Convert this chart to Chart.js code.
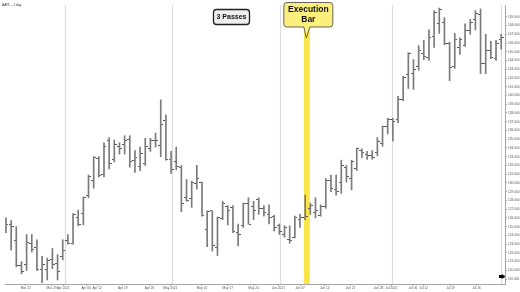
<!DOCTYPE html>
<html>
<head>
<meta charset="utf-8">
<script src="https://cdn.jsdelivr.net/npm/chart.js@4.4.1/dist/chart.umd.min.js"></script>
<style>
  body { margin: 0; background: #fff; }
  #wrap { width: 520px; height: 292px; }
</style>
</head>
<body>
<div id="wrap"><canvas id="ohlc" width="520" height="292"></canvas></div>
<script>

// AAPL daily bars, one per trading day (mid March -> early August)
var opens  = [125.6,125.3,123.4,120.6,120.7,123.1,122.6,120.1,120.1,121.2,120.8,121.6,
              123.4,123.1,126.0,126.5,128.6,130.3,132.8,131.0,134.9,132.7,134.2,134.4,135.0,132.6,131.9,132.2,133.9,134.9,134.3,137.1,132.7,
              132.4,131.8,128.3,128.2,129.9,130.0,124.7,126.8,122.6,125.9,127.3,127.2,124.3,125.1,127.6,127.3,128.1,127.1,126.4,126.2,
              125.1,124.1,123.5,123.8,125.8,126.0,127.1,126.6,126.3,127.3,130.3,129.2,130.1,131.8,130.5,131.6,133.7,133.3,133.1,133.5,134.5,136.5,
              137.2,137.2,139.5,142.4,142.5,143.3,144.8,144.4,146.7,148.2,148.4,146.0,143.3,145.5,145.7,147.4,148.7,149.3,143.7,145.2,144.2,
              146.4];
var highs  = [126.0,125.7,125.0,121.0,124.1,124.1,123.5,121.6,121.4,122.5,121.8,123.5,
              124.1,126.5,126.9,128.4,130.9,133.0,133.0,134.6,135.2,134.9,134.6,135.4,135.4,133.7,134.1,135.1,135.1,135.7,139.5,137.8,133.6,
              134.1,132.0,130.4,130.2,132.0,130.1,126.8,126.8,126.1,127.9,127.4,127.4,125.3,127.7,128.3,127.9,128.3,127.4,127.5,126.3,
              125.3,125.1,125.1,126.2,126.4,128.6,127.7,128.3,127.5,130.5,130.9,130.9,132.6,132.0,132.6,134.0,133.9,133.6,133.7,135.2,136.5,137.4,
              137.4,139.9,142.2,144.9,144.1,145.7,146.3,147.5,149.7,150.0,148.9,146.1,147.1,146.6,148.2,148.7,149.7,149.9,147.0,146.2,146.3,
              147.0];
var lows   = [124.3,122.3,120.4,119.6,120.0,122.1,120.0,118.6,118.9,120.2,118.9,121.2,
              123.0,123.0,125.1,125.2,128.3,129.4,130.7,130.7,131.6,132.4,133.3,133.3,131.8,131.2,131.4,132.0,133.6,134.1,133.0,132.6,131.1,
              131.5,126.7,127.9,127.2,129.3,126.2,122.7,122.2,121.7,125.8,125.2,124.3,122.8,124.9,125.3,125.8,126.4,126.2,125.3,124.5,
              124.1,123.8,123.1,123.7,124.9,125.8,126.4,126.0,126.2,127.1,129.0,128.6,128.8,130.1,129.2,131.4,132.9,132.7,132.7,133.1,134.2,135.6,
              134.8,136.9,139.4,140.8,140.7,142.9,144.1,144.0,145.5,147.1,145.8,141.7,143.1,144.7,145.6,147.0,147.5,142.5,142.5,144.2,144.0,
              145.3];
var closes = [125.2,125.0,120.5,119.9,123.2,122.4,120.1,120.7,121.1,120.7,119.9,122.3,
              123.1,126.4,125.3,128.3,130.7,132.9,130.9,134.2,132.2,134.4,133.9,134.9,132.4,132.9,133.4,134.2,134.9,134.8,136.7,132.7,131.5,
              131.9,127.7,128.0,130.0,130.5,126.3,126.7,122.8,126.0,127.7,126.9,124.4,124.1,127.6,125.3,126.8,127.1,126.6,126.1,124.9,
              124.4,124.9,123.4,126.0,126.1,126.2,127.4,126.9,127.3,130.3,129.4,129.0,132.0,130.7,132.4,133.9,133.5,133.1,132.9,134.7,136.4,137.2,
              137.0,139.5,142.1,144.8,143.0,145.1,144.5,146.6,149.5,149.8,145.9,143.2,146.4,146.4,147.4,148.3,149.4,143.7,145.2,144.4,146.0,
              146.6];

// month separators and date labels, in bar-index units
var monthLines  = [11.5, 32.1, 53.1, 74.8, 95.9];
var xTickPos    = [3.84, 8.83, 11.13, 15.55, 17.66, 22.65, 27.83, 31.86, 38.0, 43.0, 48.0,
                   52.8, 57.0, 61.8, 66.8, 72.2, 74.7, 78.9, 81.0, 86.2, 91.2];
var xTickLabels = ['Mar 22','Mar 29','Apr 2021','Apr 06','Apr 12','Apr 19','Apr 26','May 2021','May 10','May 17','May 24',
                   'Jun 2021','Jun 07','Jun 14','Jun 21','Jun 28','Jul 2021','Jul 06','Jul 12','Jul 19','Jul 26'];

// highlighted execution bar and the price marker at the right edge
var execFrom = 57.75, execTo = 58.9;
var lastMarker = [{ x: 96.2, y: 119.3 }];


function tickImage(side){
	var c = document.createElement('canvas');
	c.width = 5; c.height = 1;
	var g = c.getContext('2d');
	g.fillStyle = '#555';
	if(side == 'left') g.fillRect(0, 0, 2, 1);
	else g.fillRect(3, 0, 2, 1);
	return c;
}

function arrowImage(){
	var c = document.createElement('canvas');
	c.width = 7; c.height = 5;
	var g = c.getContext('2d');
	g.fillStyle = '#000';
	g.fillRect(0, 1, 4, 3);
	g.beginPath(); g.moveTo(3, 0); g.lineTo(7, 2.5); g.lineTo(3, 5); g.closePath(); g.fill();
	return c;
}

function roundRect(ctx, x, y, w, h, r){
	ctx.beginPath();
	ctx.moveTo(x + r, y);
	ctx.arcTo(x + w, y, x + w, y + h, r);
	ctx.arcTo(x + w, y + h, x, y + h, r);
	ctx.arcTo(x, y + h, x, y, r);
	ctx.arcTo(x, y, x + w, y, r);
	ctx.closePath();
}

var overlays = {
	id: 'overlays',

	beforeDatasetsDraw(chart){
		var ctx = chart.ctx, xs = chart.scales.x, area = chart.chartArea;
		ctx.save();
		// month separators
		ctx.strokeStyle = '#dcdcdc';
		ctx.lineWidth = 1.2;
		monthLines.forEach(function(m){
			var px = Math.round(xs.getPixelForValue(m)) + 0.5;
			ctx.beginPath(); ctx.moveTo(px, area.top); ctx.lineTo(px, area.bottom); ctx.stroke();
		});
		// yellow execution band
		var x1 = xs.getPixelForValue(execFrom), x2 = xs.getPixelForValue(execTo);
		ctx.fillStyle = '#f9e54a';
		ctx.fillRect(x1, 28, x2 - x1, area.bottom - 28);
		ctx.restore();
	},

	afterDraw(chart){
		var ctx = chart.ctx, xs = chart.scales.x;
		ctx.save();

		// symbol caption
		ctx.fillStyle = '#333';
		ctx.font = '3.3px "Liberation Sans", Arial, sans-serif';
		ctx.textBaseline = 'middle';
		ctx.textAlign = 'left';
		ctx.fillText('AAPL - 1 day', 2, 5);

		// "3 Passes" label
		roundRect(ctx, 213.5, 9.5, 36, 15, 3);
		ctx.fillStyle = '#efefef';
		ctx.fill();
		ctx.strokeStyle = '#222';
		ctx.lineWidth = 1.3;
		ctx.stroke();
		ctx.fillStyle = '#111';
		ctx.font = 'bold 7px "Liberation Sans", Arial, sans-serif';
		ctx.textAlign = 'center';
		ctx.fillText('3 Passes', 231.5, 17.3);

		// execution callout
		var cx = (xs.getPixelForValue(execFrom) + xs.getPixelForValue(execTo)) / 2;
		var bx = cx - 23, by = 2.5, bw = 49, bh = 24.5;
		ctx.beginPath();
		ctx.moveTo(bx + 3, by);
		ctx.lineTo(bx + bw - 3, by);
		ctx.arcTo(bx + bw, by, bx + bw, by + 3, 3);
		ctx.lineTo(bx + bw, by + bh - 3);
		ctx.arcTo(bx + bw, by + bh, bx + bw - 3, by + bh, 3);
		ctx.lineTo(cx + 3, by + bh);
		ctx.lineTo(cx - 0.5, by + bh + 11);
		ctx.lineTo(cx - 3, by + bh);
		ctx.lineTo(bx + 3, by + bh);
		ctx.arcTo(bx, by + bh, bx, by + bh - 3, 3);
		ctx.lineTo(bx, by + 3);
		ctx.arcTo(bx, by, bx + 3, by, 3);
		ctx.closePath();
		ctx.fillStyle = '#fbef7e';
		ctx.fill();
		ctx.strokeStyle = '#555';
		ctx.lineWidth = 0.9;
		ctx.stroke();
		ctx.fillStyle = '#111';
		ctx.font = 'bold 8.5px "Liberation Sans", Arial, sans-serif';
		ctx.fillText('Execution', bx + bw / 2, 10);
		ctx.fillText('Bar', bx + bw / 2, 20);

		ctx.restore();
	}
};

var rangeData = highs.map(function(h, i){ return { x: i, y: [lows[i], h] }; });
var openData  = opens.map(function(o, i){ return { x: i, y: o }; });
var closeData = closes.map(function(c, i){ return { x: i, y: c }; });

var chart = new Chart(document.getElementById('ohlc').getContext('2d'), {
	type: 'bar',
	data: {
		datasets: [{
			label: 'range',
			data: rangeData,
			backgroundColor: '#7a7a7a',
			borderWidth: 0,
			barThickness: 1,
			grouped: false
		},{
			type: 'scatter',
			label: 'open',
			data: openData,
			pointStyle: tickImage('left'),
			pointRadius: 2
		},{
			type: 'scatter',
			label: 'close',
			data: closeData,
			pointStyle: tickImage('right'),
			pointRadius: 2
		},{
			type: 'scatter',
			label: 'marker',
			data: lastMarker,
			pointStyle: arrowImage(),
			pointRadius: 3
		}]
	},
	options: {
		responsive: false,
		animation: false,
		layout: { padding: 0 },
		plugins: {
			legend: { display: false },
			tooltip: { enabled: false }
		},
		scales: {
			x: {
				type: 'linear',
				min: -0.19,
				max: 96.74,
				offset: false,
				grid: { drawOnChartArea: false, tickLength: 2, color: '#aaa', offset: false },
				border: { color: '#a5a5a5' },
				ticks: {
					autoSkip: false,
					maxRotation: 0,
					padding: 0,
					color: '#555',
					font: { size: 3.2, family: '"Liberation Sans", Arial, sans-serif' },
					callback: function(v, i){ return xTickLabels[i]; }
				},
				afterBuildTicks: function(axis){
					axis.ticks = xTickPos.map(function(v){ return { value: v }; });
				},
				afterFit: function(axis){ axis.height = 8; }
			},
			y: {
				type: 'linear',
				position: 'right',
				min: 118.44,
				max: 150.35,
				grid: { drawOnChartArea: false, tickLength: 2, color: '#aaa' },
				border: { color: '#a5a5a5' },
				ticks: {
					stepSize: 1,
					padding: 1,
					color: '#555',
					font: { size: 3.2, family: '"Liberation Sans", Arial, sans-serif' },
					callback: function(v){ return Number(v).toFixed(3); }
				},
				afterBuildTicks: function(axis){
					axis.ticks = axis.ticks.filter(function(t){ return t.value >= 119 && t.value <= 149; });
				},
				afterFit: function(axis){ axis.width = 15; }
			}
		}
	},
	plugins: [overlays]
});

</script>
</body>
</html>
